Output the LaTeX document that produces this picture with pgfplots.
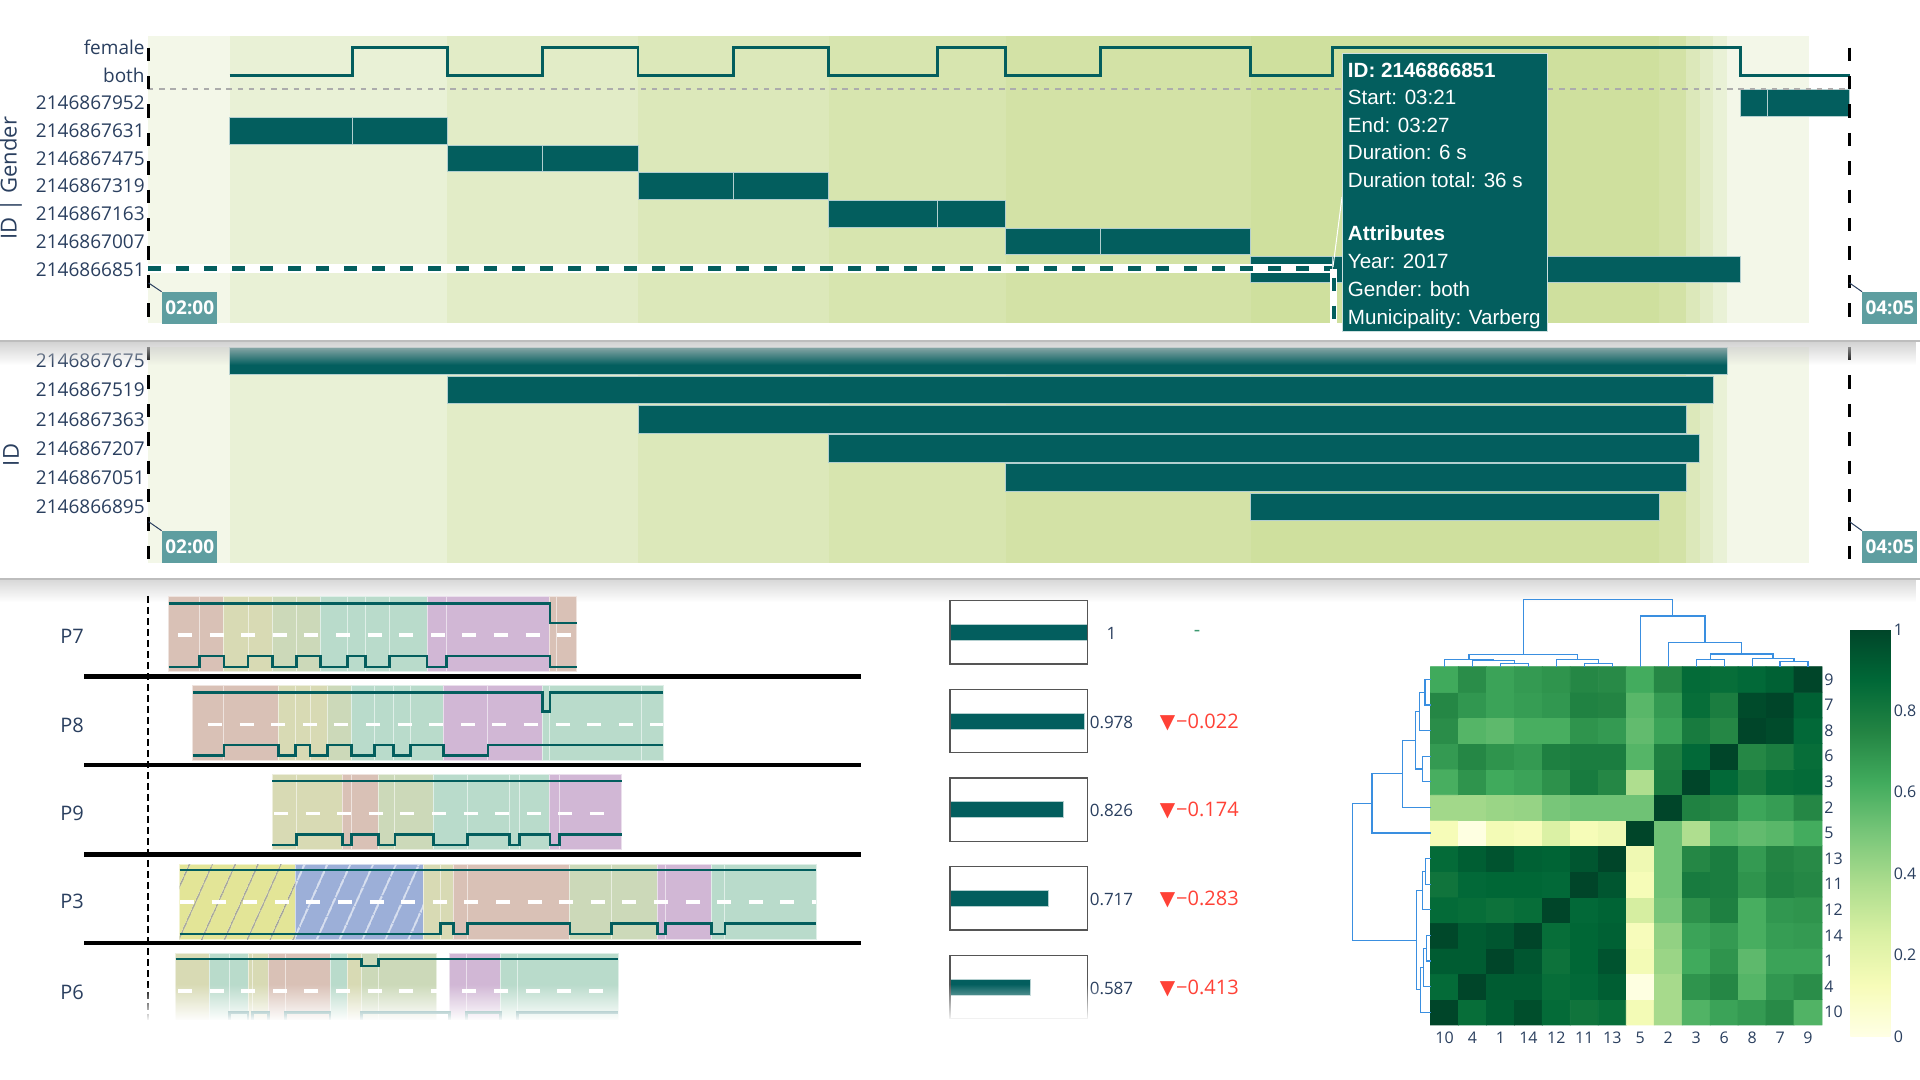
\documentclass[border=0pt]{standalone}
\usepackage{pgfplots}
\pgfplotsset{compat=1.18}
\usepackage{fontspec}
\setmainfont{Open Sans}
\newfontfamily\tipfont{Liberation Sans}
\newfontfamily\symfont{DejaVu Sans}
\usetikzlibrary{fadings,patterns.meta}
\definecolor{tealc}{HTML}{035E5E}
\definecolor{pf}{HTML}{2A3F5F}
\definecolor{lbox}{HTML}{5E9EA0}
\definecolor{bg0}{HTML}{F3F7E8}
\definecolor{bg1}{HTML}{E9F1D6}
\definecolor{bg2}{HTML}{E2ECC7}
\definecolor{bg3}{HTML}{DCE8BA}
\definecolor{bg4}{HTML}{D7E5AF}
\definecolor{bg5}{HTML}{D3E2A6}
\definecolor{bg6}{HTML}{CFE09E}
\definecolor{BR}{HTML}{D9C1B6}
\definecolor{OY}{HTML}{D8DAB4}
\definecolor{OG}{HTML}{CCD9B9}
\definecolor{TG}{HTML}{B9DBCB}
\definecolor{PU}{HTML}{D1B7D5}
\definecolor{HY}{HTML}{E3E597}
\definecolor{HB}{HTML}{9CAFD8}
\definecolor{dendro}{HTML}{3A8FE0}
\definecolor{red1}{HTML}{FF4136}
\definecolor{grn1}{HTML}{3D9970}
\definecolor{boxg}{HTML}{555555}
\definecolor{sepg}{HTML}{BDBDBD}
\pgfplotsset{colormap={ylgn}{rgb255=(255,255,229) rgb255=(247,252,185) rgb255=(217,240,163) rgb255=(173,221,142) rgb255=(120,198,121) rgb255=(65,171,93) rgb255=(35,132,67) rgb255=(0,104,55) rgb255=(0,69,41)}}
\newcommand{\fs}[1]{\fontsize{#1}{#1}\selectfont}
\newcommand{\bandA}[3]{\addplot[fill=#1,draw=none] coordinates {(#2,-1.94) (#3,-1.94) (#3,8.42) (#2,8.42)} -- cycle;}
\newcommand{\bandB}[3]{\addplot[fill=#1,draw=none] coordinates {(#2,-1.93) (#3,-1.93) (#3,5.48) (#2,5.48)} -- cycle;}
\newcommand{\bandlist}[1]{#1{bg0}{120}{126}#1{bg1}{126}{142}#1{bg2}{142}{156}#1{bg3}{156}{170}#1{bg4}{170}{183}#1{bg5}{183}{201}#1{bg6}{201}{231}#1{bg5}{231}{233}#1{bg3}{233}{234}#1{bg2}{234}{235}#1{bg1}{235}{236}#1{bg0}{236}{242}}
\newcommand{\tbar}[4]{\addplot[fill=tealc,draw=white!70!tealc,line width=0.4pt] coordinates {(#1,#3) (#2,#3) (#2,#4) (#1,#4)} -- cycle;}
\newcommand{\seg}[5]{\addplot[fill=#1,draw=white!55!#1,line width=0.5pt] coordinates {(#2,#4) (#3,#4) (#3,#5) (#2,#5)} -- cycle;}
\newcommand{\sgA}[3]{\seg{#1}{#2}{#3}{596.7}{671.7}}
\newcommand{\sgB}[3]{\seg{#1}{#2}{#3}{686}{761}}
\newcommand{\sgC}[3]{\seg{#1}{#2}{#3}{775}{849}}
\newcommand{\sgD}[3]{\seg{#1}{#2}{#3}{864}{939}}
\newcommand{\sgE}[3]{\seg{#1}{#2}{#3}{953}{1022}}
\newcommand{\midline}[3]{\addplot[white,line width=1.6pt,dash pattern=on 7pt off 8.8pt] coordinates {(#1,#3) (#2,#3)};}
\newcommand{\dl}[1]{\addplot[dendro,line width=0.6pt] coordinates {#1};}
\begin{document}
\begin{tikzpicture}[x=0.5pt,y=0.5pt]
\useasboundingbox (0,0) rectangle (1920,1080);
\fill[white] (0,0) rectangle (1920,1080);

% ---------------- Panel 1 ----------------
\begin{axis}[at={(74pt,378.5pt)}, anchor=south west, scale only axis,
  width=850.75pt, height=143.5pt, xmin=120, xmax=245, ymin=-1.94, ymax=8.42,
  clip=false, axis line style={draw=none}, major tick length=0pt, xtick=\empty,
  ytick={0,...,8},
  yticklabels={2146866851,2146867007,2146867163,2146867319,2146867475,2146867631,2146867952,both,female},
  yticklabel style={font=\fs{9.5}, text=pf, inner sep=1.5pt}]
\bandlist\bandA
\tbar{237}{239}{5.52}{6.48}\tbar{239}{245}{5.52}{6.48}
\tbar{126}{135}{4.52}{5.48}\tbar{135}{142}{4.52}{5.48}
\tbar{142}{149}{3.52}{4.48}\tbar{149}{156}{3.52}{4.48}
\tbar{156}{163}{2.52}{3.48}\tbar{163}{170}{2.52}{3.48}
\tbar{170}{178}{1.52}{2.48}\tbar{178}{183}{1.52}{2.48}
\tbar{183}{190}{0.52}{1.48}\tbar{190}{201}{0.52}{1.48}
\tbar{201}{207}{-0.48}{0.48}\tbar{207}{237}{-0.48}{0.48}
\addplot[const plot, tealc, line width=1.4pt] coordinates {(126,7) (135,8) (142,7) (149,8) (156,7) (163,8) (170,7) (178,8) (183,7) (190,8) (201,7) (207,8) (237,7) (245,7)};
\addplot[color=gray!65, line width=1.25pt, dash pattern=on 2.7pt off 2.9pt] coordinates {(120,6.51) (245,6.51)};
\addplot[white, line width=4.5pt] coordinates {(120,0.01) (207,0.01)};
\addplot[tealc, line width=2.5pt, dash pattern=on 6.7pt off 7.3pt] coordinates {(120,0.01) (207,0.01)};
\addplot[white, line width=3.2pt] coordinates {(207.1,0.01) (207.1,-1.94)};
\addplot[tealc, line width=2pt, dash pattern=on 6.7pt off 7.3pt] coordinates {(207.1,-0.3) (207.1,-1.94)};
\addplot[black, line width=1.5pt, dash pattern=on 6.7pt off 7.5pt] coordinates {(120,8) (120,-1.94)};
\addplot[black, line width=1.5pt, dash pattern=on 6.7pt off 7.5pt] coordinates {(245,8) (245,-1.94)};
\end{axis}

% ---------------- Panel 2 ----------------
\begin{axis}[at={(74pt,258.5pt)}, anchor=south west, scale only axis,
  width=850.75pt, height=108pt, xmin=120, xmax=245, ymin=-1.93, ymax=5.48,
  clip=false, axis line style={draw=none}, major tick length=0pt, xtick=\empty,
  ytick={0,...,5},
  yticklabels={2146866895,2146867051,2146867207,2146867363,2146867519,2146867675},
  yticklabel style={font=\fs{9.5}, text=pf, inner sep=1.5pt}]
\bandlist\bandB
\tbar{126}{236}{4.53}{5.47}
\tbar{142}{235}{3.53}{4.47}
\tbar{156}{233}{2.53}{3.47}
\tbar{170}{234}{1.53}{2.47}
\tbar{183}{233}{0.53}{1.47}
\tbar{201}{231}{-0.47}{0.47}
\addplot[black, line width=1.5pt, dash pattern=on 6.7pt off 7.5pt] coordinates {(120,5.48) (120,-1.93)};
\addplot[black, line width=1.5pt, dash pattern=on 6.7pt off 7.5pt] coordinates {(245,5.48) (245,-1.93)};
\end{axis}

% time labels
\draw[pf, line width=0.5pt] (148.6,797) -- (161.6,788.3);
\node[fill=lbox, text=white, font=\bfseries\fs{9.5}, inner sep=0pt, minimum width=27.7pt, minimum height=15.8pt, anchor=north west] at (161.6,788.3) {02:00};
\draw[pf, line width=0.5pt] (1849.5,797) -- (1862,788.3);
\node[fill=lbox, text=white, font=\bfseries\fs{9.5}, inner sep=0pt, minimum width=27.5pt, minimum height=15.8pt, anchor=north west] at (1862,788.3) {04:05};
\draw[pf, line width=0.5pt] (148.6,558.3) -- (161.6,549.3);
\node[fill=lbox, text=white, font=\bfseries\fs{9.5}, inner sep=0pt, minimum width=27.7pt, minimum height=16pt, anchor=north west] at (161.6,549.3) {02:00};
\draw[pf, line width=0.5pt] (1849.5,558.3) -- (1862,549.3);
\node[fill=lbox, text=white, font=\bfseries\fs{9.5}, inner sep=0pt, minimum width=27.5pt, minimum height=16pt, anchor=north west] at (1862,549.3) {04:05};

% tooltip
\draw[white, line width=0.5pt] (1342,883) -- (1333,813);
\filldraw[fill=tealc, draw=white!80!tealc, line width=0.5pt] (1342,1026.7) rectangle (1547,748.3);
\begin{scope}[every node/.style={anchor=base west, text=white, inner sep=0pt, font=\tipfont\fs{10.3}}]
\node at (1347.5,1002.7) {\bfseries ID: 2146866851};
\node at (1347.5,975) {Start: 03:21};
\node at (1347.5,947.3) {End: 03:27};
\node at (1347.5,920) {Duration: 6 s};
\node at (1347.5,892.3) {Duration total: 36 s};
\node at (1347.5,839.3) {\bfseries Attributes};
\node at (1347.5,811.7) {Year: 2017};
\node at (1347.5,783.3) {Gender: both};
\node at (1347.5,755.5) {Municipality: Varberg};
\end{scope}

% axis titles
\node[rotate=90, text=pf, font=\fs{11}] at (11,902) {ID | Gender};
\node[rotate=90, text=pf, font=\fs{11}] at (11,625) {ID};

% panel separators and shadows
\fill[black!20, opacity=0.85, path fading=south] (0,738) rectangle (1920,715);
\draw[sepg, line width=1pt] (0,739) -- (1920,739);
\fill[black!20, opacity=0.75, path fading=south] (0,500) rectangle (1920,478);
\draw[sepg, line width=1pt] (0,501) -- (1920,501);

% ---------------- P rows ----------------
\begin{axis}[at={(42pt,25pt)}, anchor=south west, scale only axis, width=388.5pt, height=220pt,
  xmin=84, xmax=861, ymin=590, ymax=1030, y dir=reverse, hide axis, clip=false]
\addplot[black, line width=1.4pt, dash pattern=on 3.3pt off 2.2pt] coordinates {(148,596) (148,1024)};
% P7
\sgA{BR}{168.7}{199.7}\sgA{BR}{199.7}{223.9}\sgA{OY}{223.9}{248.0}\sgA{OY}{248.0}{272.1}
\sgA{OG}{272.1}{296.2}\sgA{OG}{296.2}{320.3}\sgA{TG}{320.3}{347.8}\sgA{TG}{347.8}{365.1}
\sgA{TG}{365.1}{389.2}\sgA{TG}{389.2}{427.0}\sgA{PU}{427.0}{446.6}\sgA{PU}{446.6}{549.9}
\sgA{BR}{549.9}{556.8}\sgA{BR}{556.8}{576.9}
\midline{178}{576.9}{635}
\addplot[const plot, tealc, line width=1.4pt] coordinates {(168.7,603.3) (549.9,623) (576.9,623)};
\addplot[const plot, tealc, line width=1.4pt] coordinates {(168.7,667) (199.7,656) (223.9,667) (248,656) (272.1,667) (296.2,656) (320.3,667) (347.8,656) (365.1,667) (389.2,656) (427,667) (446.6,656) (549.9,667) (576.9,667)};
% P8
\sgB{BR}{192.9}{223.9}\sgB{BR}{223.9}{278.4}\sgB{OY}{278.4}{295.6}\sgB{OY}{295.6}{310.0}
\sgB{OY}{310.0}{327.2}\sgB{OG}{327.2}{351.3}\sgB{TG}{351.3}{374.2}\sgB{TG}{374.2}{393.2}
\sgB{TG}{393.2}{410.4}\sgB{TG}{410.4}{443.1}\sgB{PU}{443.1}{487.9}\sgB{PU}{487.9}{542.4}
\sgB{TG}{542.4}{549.9}\sgB{TG}{549.9}{641.7}\sgB{TG}{641.7}{663.0}
\midline{208}{663}{724.3}
\addplot[const plot, tealc, line width=1.4pt] coordinates {(192.9,692.7) (542.4,711.7) (549.9,692.7) (663,692.7)};
\addplot[const plot, tealc, line width=1.4pt] coordinates {(192.9,755.7) (223.9,745) (278.4,755.7) (295.6,745) (310,755.7) (327.2,745) (351.3,755.7) (374.2,745) (393.2,755.7) (410.4,745) (443.1,755.7) (487.9,745) (663,745)};
% P9
\sgC{OY}{272.1}{296.2}\sgC{OY}{296.2}{342.1}\sgC{BR}{342.1}{351.3}\sgC{BR}{351.3}{378.8}
\sgC{OG}{378.8}{394.9}\sgC{OG}{394.9}{433.4}\sgC{TG}{433.4}{467.8}\sgC{TG}{467.8}{509.1}
\sgC{TG}{509.1}{519.5}\sgC{TG}{519.5}{549.9}\sgC{PU}{549.9}{559.6}\sgC{PU}{559.6}{621.6}
\midline{274}{621.6}{813.3}
\addplot[const plot, tealc, line width=1.4pt] coordinates {(272.1,781) (621.6,781)};
\addplot[const plot, tealc, line width=1.4pt] coordinates {(272.1,845) (296.2,834.3) (342.1,845) (351.3,834.3) (378.8,845) (394.9,834.3) (433.4,845) (467.8,834.3) (509.1,845) (519.5,834.3) (549.9,845) (559.6,834.3) (621.6,834.3)};
% P3
\sgD{HY}{179.7}{295.6}\sgD{HB}{295.6}{423.6}
\addplot[pattern={Lines[angle=66,distance=10.5pt,line width=0.7pt]}, pattern color=gray!75, draw=none] coordinates {(179.7,864) (295.6,864) (295.6,939) (179.7,939)} -- cycle;
\addplot[pattern={Lines[angle=66,distance=10.5pt,line width=0.8pt]}, pattern color=white!60!HB, draw=none] coordinates {(295.6,864) (423.6,864) (423.6,939) (295.6,939)} -- cycle;
\sgD{OY}{423.6}{440.8}\sgD{OY}{440.8}{453.4}\sgD{BR}{453.4}{467.8}\sgD{BR}{467.8}{569.9}
\sgD{OG}{569.9}{611.3}\sgD{OG}{611.3}{657.2}\sgD{PU}{657.2}{665.8}\sgD{PU}{665.8}{711.7}
\sgD{TG}{711.7}{724.9}\sgD{TG}{724.9}{816.2}
\midline{180}{816.2}{902}
\addplot[const plot, tealc, line width=1.4pt] coordinates {(179.7,870) (816.2,870)};
\addplot[const plot, tealc, line width=1.4pt] coordinates {(179.7,934) (440.8,923.3) (453.4,934) (467.8,923.3) (569.9,934) (611.3,923.3) (657.2,934) (665.8,923.3) (711.7,934) (724.9,923.3) (816.2,923.3)};
% P6
\sgE{OY}{175.6}{209.5}\sgE{TG}{209.5}{229.6}\sgE{TG}{229.6}{248.0}\sgE{OY}{248.0}{252.6}
\sgE{OY}{252.6}{268.6}\sgE{BR}{268.6}{285.3}\sgE{BR}{285.3}{330.0}\sgE{TG}{330.0}{347.2}
\sgE{OY}{347.2}{361.6}\sgE{OG}{361.6}{378.8}\sgE{OG}{378.8}{436.2}\sgE{PU}{449.4}{466.6}
\sgE{PU}{466.6}{500.5}\sgE{TG}{500.5}{517.7}\sgE{TG}{517.7}{618.2}
\midline{178}{618.2}{991}
\addplot[const plot, tealc, line width=1.4pt] coordinates {(175.6,959) (361.6,966) (378.8,959) (618.2,959)};
\addplot[const plot, tealc, line width=1.4pt] coordinates {(175.6,1022) (229.6,1012.7) (248,1022) (252.6,1012.7) (268.6,1022) (285.3,1012.7) (330,1022) (361.6,1012.7) (449.4,1022) (466.6,1012.7) (500.5,1022) (517.7,1012.7) (618.2,1012.7)};
% separators
\addplot[black, line width=2.3pt] coordinates {(84,676.5) (861,676.5)};
\addplot[black, line width=2.3pt] coordinates {(84,765) (861,765)};
\addplot[black, line width=2.3pt] coordinates {(84,854.2) (861,854.2)};
\addplot[black, line width=2.3pt] coordinates {(84,942.8) (861,942.8)};
\end{axis}

\begin{scope}[every node/.style={anchor=west, text=pf, font=\fs{10}, inner sep=0pt}]
\node at (60,443.3) {P7};
\node at (60,355) {P8};
\node at (60,267) {P9};
\node at (60,178.3) {P3};
\node at (60,87.7) {P6};
\end{scope}

% ---------------- similarity bars ----------------
\begin{axis}[at={(475pt,25pt)}, anchor=south west, scale only axis, width=68.65pt, height=220pt,
  xmin=0, xmax=1, ymin=590, ymax=1030, y dir=reverse, hide axis, clip=false]
\addplot[fill=tealc,draw=white!70!tealc,line width=0.4pt] coordinates {(0,624.5) (1,624.5) (1,640.5) (0,640.5)} -- cycle;
\addplot[fill=tealc,draw=white!70!tealc,line width=0.4pt] coordinates {(0,713.1) (0.978,713.1) (0.978,729.1) (0,729.1)} -- cycle;
\addplot[fill=tealc,draw=white!70!tealc,line width=0.4pt] coordinates {(0,801.8) (0.826,801.8) (0.826,817.8) (0,817.8)} -- cycle;
\addplot[fill=tealc,draw=white!70!tealc,line width=0.4pt] coordinates {(0,890.5) (0.717,890.5) (0.717,906.5) (0,906.5)} -- cycle;
\addplot[fill=tealc,draw=white!70!tealc,line width=0.4pt] coordinates {(0,979.1) (0.587,979.1) (0.587,995.1) (0,995.1)} -- cycle;
\addplot[draw=boxg, line width=0.75pt] coordinates {(0,600.7) (1,600.7) (1,664) (0,664)} -- cycle;
\addplot[draw=boxg, line width=0.75pt] coordinates {(0,689.3) (1,689.3) (1,752.6) (0,752.6)} -- cycle;
\addplot[draw=boxg, line width=0.75pt] coordinates {(0,778) (1,778) (1,841.3) (0,841.3)} -- cycle;
\addplot[draw=boxg, line width=0.75pt] coordinates {(0,866.7) (1,866.7) (1,930) (0,930)} -- cycle;
\addplot[draw=boxg, line width=0.75pt] coordinates {(0,955.3) (1,955.3) (1,1018.6) (0,1018.6)} -- cycle;
\node[text=pf, font=\fs{8.5}] at (axis cs:1.176,633.3) {1};
\node[text=pf, font=\fs{8.5}] at (axis cs:1.176,722.3) {0.978};
\node[text=pf, font=\fs{8.5}] at (axis cs:1.176,810.7) {0.826};
\node[text=pf, font=\fs{8.5}] at (axis cs:1.176,899.3) {0.717};
\node[text=pf, font=\fs{8.5}] at (axis cs:1.176,988.3) {0.587};
\node[text=grn1, font=\fs{10}] at (axis cs:1.8,633.3) {-};
\node[text=red1, font=\fs{10}] at (axis cs:1.8155,722.3) {{\symfont▼}\kern0.5pt−0.022};
\node[text=red1, font=\fs{10}] at (axis cs:1.8155,810.7) {{\symfont▼}\kern0.5pt−0.174};
\node[text=red1, font=\fs{10}] at (axis cs:1.8155,899.3) {{\symfont▼}\kern0.5pt−0.283};
\node[text=red1, font=\fs{10}] at (axis cs:1.8155,988.3) {{\symfont▼}\kern0.5pt−0.413};
\end{axis}

% fade at bottom of scrolled list
\fill[white, path fading=north] (84,59) rectangle (1100,96);
\fill[white] (84,40) rectangle (1100,60);

% ---------------- heatmap ----------------
\begin{axis}[at={(715.25pt,27.5pt)}, anchor=south west, scale only axis,
  width=195.75pt, height=179.15pt, xmin=-0.5, xmax=13.5, ymin=-0.5, ymax=13.5,
  clip=false, axis line style={draw=none}, major tick length=0pt,
  xtick={0,...,13}, ytick={0,...,13},
  xticklabels={10,4,1,14,12,11,13,5,2,3,6,8,7,9},
  yticklabels={10,4,1,14,12,11,13,5,2,3,6,8,7,9},
  yticklabel pos=right,
  xticklabel style={font=\fs{8}, text=pf},
  yticklabel style={font=\fs{8}, text=pf, inner sep=1pt},
  colormap name=ylgn, point meta min=0, point meta max=1,
  colorbar, colorbar/width=20pt,
  colorbar style={at={(parent axis.north east)}, anchor=north west, xshift=5.66pt, yshift=18.7pt,
    width=20pt, height=203.7pt, scale only axis,
    ytick={0,0.2,0.4,0.6,0.8,1}, yticklabels={0,0.2,0.4,0.6,0.8,1},
    yticklabel style={font=\fs{8}, text=pf, inner sep=1.5pt},
    axis line style={draw=none}, major tick length=0pt}]
\addplot[matrix plot*, mesh/cols=14, mesh/rows=14, point meta=explicit] table[meta=c] {
x y c
0 0 1.00
1 0 0.85
2 0 0.91
3 0 0.97
4 0 0.86
5 0 0.82
6 0 0.85
7 0 0.14
8 0 0.39
9 0 0.59
10 0 0.65
11 0 0.68
12 0 0.73
13 0 0.59
0 1 0.86
1 1 1.00
2 1 0.92
3 1 0.92
4 1 0.85
5 1 0.87
6 1 0.91
7 1 0.01
8 1 0.39
9 1 0.70
10 1 0.74
11 1 0.58
12 1 0.69
13 1 0.72
0 2 0.92
1 2 0.92
2 2 1.00
3 2 0.94
4 2 0.83
5 2 0.88
6 2 0.95
7 2 0.14
8 2 0.42
9 2 0.63
10 2 0.70
11 2 0.56
12 2 0.65
13 2 0.65
0 3 0.99
1 3 0.92
2 3 0.94
3 3 1.00
4 3 0.85
5 3 0.88
6 3 0.90
7 3 0.12
8 3 0.44
9 3 0.65
10 3 0.68
11 3 0.61
12 3 0.67
13 3 0.68
0 4 0.86
1 4 0.85
2 4 0.83
3 4 0.85
4 4 1.00
5 4 0.87
6 4 0.89
7 4 0.26
8 4 0.50
9 4 0.71
10 4 0.77
11 4 0.61
12 4 0.69
13 4 0.70
0 5 0.82
1 5 0.87
2 5 0.88
3 5 0.88
4 5 0.87
5 5 1.00
6 5 0.94
7 5 0.13
8 5 0.52
9 5 0.79
10 5 0.78
11 5 0.70
12 5 0.76
13 5 0.74
0 6 0.86
1 6 0.91
2 6 0.95
3 6 0.90
4 6 0.89
5 6 0.94
6 6 1.00
7 6 0.16
8 6 0.52
9 6 0.74
10 6 0.78
11 6 0.68
12 6 0.75
13 6 0.73
0 7 0.13
1 7 0.01
2 7 0.14
3 7 0.12
4 7 0.24
5 7 0.13
6 7 0.16
7 7 1.00
8 7 0.52
9 7 0.37
10 7 0.58
11 7 0.55
12 7 0.57
13 7 0.62
0 8 0.40
1 8 0.40
2 8 0.42
3 8 0.43
4 8 0.50
5 8 0.52
6 8 0.52
7 8 0.52
8 8 1.00
9 8 0.76
10 8 0.74
11 8 0.64
12 8 0.67
13 8 0.74
0 9 0.61
1 9 0.70
2 9 0.63
3 9 0.65
4 9 0.71
5 9 0.79
6 9 0.74
7 9 0.37
8 9 0.78
9 9 1.00
10 9 0.87
11 9 0.79
12 9 0.85
13 9 0.86
0 10 0.68
1 10 0.74
2 10 0.70
3 10 0.68
4 10 0.77
5 10 0.78
6 10 0.78
7 10 0.58
8 10 0.77
9 10 0.87
10 10 1.00
11 10 0.74
12 10 0.78
13 10 0.85
0 11 0.72
1 11 0.58
2 11 0.56
3 11 0.61
4 11 0.61
5 11 0.70
6 11 0.68
7 11 0.55
8 11 0.65
9 11 0.79
10 11 0.74
11 11 1.00
12 11 0.98
13 11 0.87
0 12 0.74
1 12 0.69
2 12 0.65
3 12 0.67
4 12 0.69
5 12 0.76
6 12 0.75
7 12 0.57
8 12 0.68
9 12 0.85
10 12 0.78
11 12 0.98
12 12 1.00
13 12 0.90
0 13 0.63
1 13 0.72
2 13 0.65
3 13 0.68
4 13 0.70
5 13 0.74
6 13 0.73
7 13 0.62
8 13 0.74
9 13 0.86
10 13 0.85
11 13 0.87
12 13 0.90
13 13 1.00
};
% top dendrogram
\dl{(2,13.5) (2,13.633) (3,13.633) (3,13.5)}
\dl{(1,13.5) (1,13.736) (2.5,13.736) (2.5,13.633)}
\dl{(0,13.5) (0,13.789) (1.75,13.789) (1.75,13.736)}
\dl{(5,13.5) (5,13.633) (6,13.633) (6,13.5)}
\dl{(4,13.5) (4,13.789) (5.5,13.789) (5.5,13.633)}
\dl{(0.875,13.789) (0.875,13.985) (4.75,13.985) (4.75,13.789)}
\dl{(12,13.5) (12,13.695) (13,13.695) (13,13.5)}
\dl{(11,13.5) (11,13.828) (12.5,13.828) (12.5,13.695)}
\dl{(9,13.5) (9,13.789) (10,13.789) (10,13.5)}
\dl{(9.5,13.789) (9.5,13.996) (11.75,13.996) (11.75,13.828)}
\dl{(8,13.5) (8,14.438) (10.625,14.438) (10.625,13.996)}
\dl{(7,13.5) (7,15.481) (9.3125,15.481) (9.3125,14.438)}
\dl{(2.8125,13.985) (2.8125,16.134) (8.156,16.134) (8.156,15.481)}
% left dendrogram
\dl{(-0.5,13) (-0.700,13) (-0.700,12) (-0.5,12)}
\dl{(-0.700,12.5) (-0.883,12.5) (-0.883,11) (-0.5,11)}
\dl{(-0.5,10) (-0.797,10) (-0.797,9) (-0.5,9)}
\dl{(-0.883,11.75) (-1.026,11.75) (-1.026,9.5) (-0.797,9.5)}
\dl{(-1.026,10.625) (-1.491,10.625) (-1.491,8) (-0.5,8)}
\dl{(-1.491,9.3125) (-2.592,9.3125) (-2.592,7) (-0.5,7)}
\dl{(-0.5,6) (-0.672,6) (-0.672,5) (-0.5,5)}
\dl{(-0.672,5.5) (-0.783,5.5) (-0.783,4) (-0.5,4)}
\dl{(-0.5,3) (-0.643,3) (-0.643,2) (-0.5,2)}
\dl{(-0.643,2.5) (-0.740,2.5) (-0.740,1) (-0.5,1)}
\dl{(-0.740,1.75) (-0.854,1.75) (-0.854,0) (-0.5,0)}
\dl{(-0.783,4.75) (-0.997,4.75) (-0.997,0.875) (-0.854,0.875)}
\dl{(-2.592,8.156) (-3.286,8.156) (-3.286,2.8125) (-0.997,2.8125)}
\end{axis}
\end{tikzpicture}
\end{document}
